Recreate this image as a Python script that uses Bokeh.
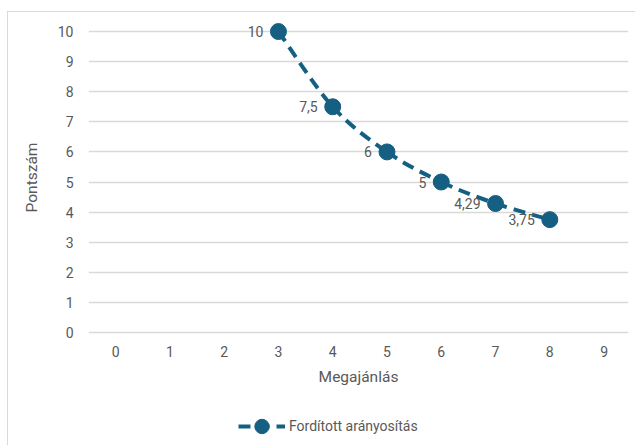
from bokeh.plotting import figure
from bokeh.layouts import column
from bokeh.models import Range1d, Legend, LegendItem, ColumnDataSource, FixedTicker, LabelSet
from bokeh.core.properties import value
from bokeh.embed import file_html
from bokeh.resources import INLINE

# ---- data ----
offers = [3, 4, 5, 6, 7, 8]                     # Megajánlás
scores = [10, 7.5, 6, 5, 4.2857, 3.75]          # Pontszám
labels = ["10", "7,5", "6", "5", "4,29", "3,75"]
x_ticks = [0, 1, 2, 3, 4, 5, 6, 7, 8, 9]
y_ticks = [0, 1, 2, 3, 4, 5, 6, 7, 8, 9, 10]
series_name = "Fordított arányosítás"

COLOR = "#156082"
GRAY = "#595959"
GRID = "#D9D9D9"
FONT = "Roboto"
DASH = "12 7"

p = figure(width=627, height=388, output_backend="svg", toolbar_location=None,
           x_range=Range1d(-0.5, 9.45), y_range=Range1d(-0.1, 10.4),
           min_border_left=80, min_border_right=7, min_border_top=7, min_border_bottom=65)
p.outline_line_color = None
p.background_fill_color = "white"
p.border_fill_color = "white"

p.xgrid.visible = False
p.ygrid.grid_line_color = GRID
p.ygrid.grid_line_width = 1.3
p.ygrid.ticker = FixedTicker(ticks=y_ticks)

for ax in (p.xaxis, p.yaxis):
    ax.axis_line_color = None
    ax.major_tick_line_color = None
    ax.minor_tick_line_color = None
    ax.major_tick_out = 0
    ax.major_label_text_color = GRAY
    ax.major_label_text_font = FONT
    ax.major_label_text_font_size = "14px"
    ax.axis_label_text_color = GRAY
    ax.axis_label_text_font = FONT
    ax.axis_label_text_font_size = "15.5px"
    ax.axis_label_text_font_style = "normal"

p.xaxis.ticker = FixedTicker(ticks=x_ticks)
p.yaxis.ticker = FixedTicker(ticks=y_ticks)
p.xaxis.axis_label = "Megajánlás"
p.yaxis.axis_label = "Pontszám"
p.xaxis.major_label_standoff = 10
p.yaxis.major_label_standoff = 15
p.xaxis.axis_label_standoff = 8
p.yaxis.axis_label_standoff = 14

# smoothed curve (Catmull-Rom style Bezier through the data points)
n = len(offers)
x0, y0, x1, y1, cx0, cy0, cx1, cy1 = [], [], [], [], [], [], [], []
for i in range(n - 1):
    ip = max(i - 1, 0)
    inn = min(i + 2, n - 1)
    x0.append(offers[i]); y0.append(scores[i])
    x1.append(offers[i + 1]); y1.append(scores[i + 1])
    cx0.append(offers[i] + (offers[i + 1] - offers[ip]) / 6)
    cy0.append(scores[i] + (scores[i + 1] - scores[ip]) / 6)
    cx1.append(offers[i + 1] - (offers[inn] - offers[i]) / 6)
    cy1.append(scores[i + 1] - (scores[inn] - scores[i]) / 6)

p.bezier(x0=x0, y0=y0, x1=x1, y1=y1, cx0=cx0, cy0=cy0, cx1=cx1, cy1=cy1,
         line_color=COLOR, line_width=4, line_dash=DASH)

src = ColumnDataSource(dict(x=offers, y=scores, lab=labels))
p.scatter("x", "y", source=src, size=16, fill_color=COLOR, line_color=COLOR)

lbl = LabelSet(x="x", y="y", text="lab", source=src, x_offset=-15, y_offset=0,
               text_align="right", text_baseline="middle", text_color=GRAY,
               text_font=value(FONT), text_font_size="14px")
p.add_layout(lbl)

# legend strip below the chart
leg = figure(width=627, height=45, output_backend="svg", toolbar_location=None,
             x_range=Range1d(100, 101), y_range=Range1d(100, 101),
             min_border_left=0, min_border_right=0, min_border_top=0, min_border_bottom=0)
leg.axis.visible = False
leg.grid.visible = False
leg.outline_line_color = None
leg.border_fill_color = "white"
lr = leg.line(offers, scores, line_color=COLOR, line_width=4, line_dash=DASH)
sr = leg.scatter(offers, scores, size=15, fill_color=COLOR, line_color=COLOR)
legend = Legend(items=[LegendItem(label=series_name, renderers=[lr, sr])],
                location=(150, 1), orientation="horizontal",
                border_line_color=None, background_fill_alpha=0,
                label_text_color=GRAY, label_text_font=FONT, label_text_font_size="14px",
                glyph_width=47, glyph_height=36, label_standoff=4,
                padding=0, margin=0)
leg.add_layout(legend, "center")

root = column(p, leg, spacing=0, margin=(11, 0, 0, 7),
              styles={"border-left": "1px solid #D9D9D9", "border-top": "1px solid #D9D9D9"})

open("out.html", "w").write(file_html(root, INLINE))
